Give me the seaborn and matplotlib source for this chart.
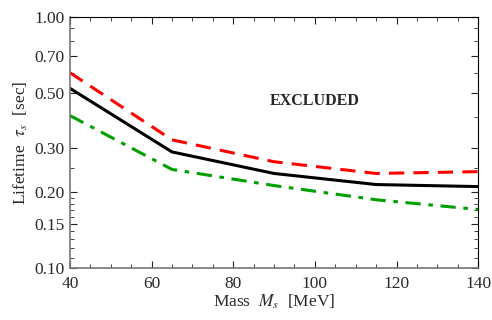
import pandas as pd
import seaborn as sns
import matplotlib.pyplot as plt
from matplotlib.ticker import FixedLocator, FixedFormatter, MultipleLocator, NullFormatter

# masses (MeV) and lifetime bounds (sec)
mass = [40, 65, 90, 115, 140]
tau_upper = [0.60, 0.324, 0.265, 0.238, 0.242]   # red dashed
tau_central = [0.52, 0.290, 0.238, 0.215, 0.211]  # black solid
tau_lower = [0.405, 0.247, 0.213, 0.187, 0.171]   # green dash-dot

yticks = [0.10, 0.15, 0.20, 0.30, 0.50, 0.70, 1.00]
ytick_labels = ['0.10', '0.15', '0.20', '0.30', '0.50', '0.70', '1.00']

sns.set_style("ticks")
plt.rcParams['font.family'] = ['Liberation Serif', 'DejaVu Serif']
plt.rcParams['mathtext.fontset'] = 'stix'

df = pd.DataFrame({'mass': mass, 'upper': tau_upper, 'central': tau_central, 'lower': tau_lower})

fig, ax = plt.subplots(figsize=(4.92, 3.2), dpi=100)
fig.subplots_adjust(left=0.142, right=0.972, top=0.947, bottom=0.1625)

sns.lineplot(data=df, x='mass', y='upper', ax=ax, color='#ff0000', lw=2.2)
ax.lines[-1].set_dashes([5, 3])
sns.lineplot(data=df, x='mass', y='central', ax=ax, color='black', lw=2.2)
sns.lineplot(data=df, x='mass', y='lower', ax=ax, color='#00a000', lw=2.2)
ax.lines[-1].set_dashes([5, 2.5, 1.5, 2.5])

ax.set_yscale('log')
ax.set_xlim(40, 140)
ax.set_ylim(0.10, 1.00)
ax.xaxis.set_major_locator(MultipleLocator(20))
ax.xaxis.set_minor_locator(MultipleLocator(5))
ax.yaxis.set_major_locator(FixedLocator(yticks))
ax.yaxis.set_major_formatter(FixedFormatter(ytick_labels))
ax.yaxis.set_minor_locator(FixedLocator([0.11, 0.12, 0.13, 0.14, 0.16, 0.17, 0.18, 0.19,
                                         0.25, 0.4, 0.6, 0.8, 0.9]))
ax.yaxis.set_minor_formatter(NullFormatter())

ax.tick_params(which='both', direction='in', top=True, right=True, colors='#222222',
               labelsize=12.5, labelcolor='#2a2a2a')
ax.tick_params(which='major', length=5, width=0.8)
ax.tick_params(axis='x', which='major', pad=6)
ax.tick_params(axis='y', which='major', pad=4)
ax.tick_params(which='minor', length=3, width=0.6)
for side in ['left', 'bottom']:
    ax.spines[side].set_color('#777777')
    ax.spines[side].set_linewidth(1.2)
for side in ['top', 'right']:
    ax.spines[side].set_color('black')
    ax.spines[side].set_linewidth(0.8)

ax.set_xlabel(r'Mass  $M_s$  [MeV]', fontsize=12.5, color='#2a2a2a', labelpad=0)
ax.set_ylabel(r'Lifetime  $\tau_s$  [sec]', fontsize=12.5, color='#2a2a2a', labelpad=3)

ax.text(100, 0.462, 'EXCLUDED', fontsize=11.5, fontweight='bold', ha='center', va='center')

plt.savefig('out.png', dpi=100)
